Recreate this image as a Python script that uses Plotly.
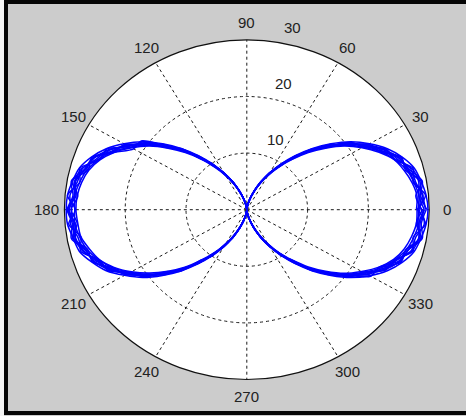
import numpy as np
import plotly.graph_objects as go

# Sweep angles (degrees) shared by every measured pattern
theta_deg = list(range(0, 365, 5))

# Radiation pattern magnitude, one list per measurement sweep
sweep_1 = [29.4, 29.0, 28.2, 27.9, 26.3, 25.1, 22.9, 20.0, 17.7, 14.6, 12.3, 9.4, 7.5, 5.1, 3.5, 1.8, 0.9, 0.3, 0.0,
           0.2, 1.0, 2.0, 3.3, 5.4, 7.2, 9.8, 11.9, 15.0, 17.3, 20.5, 22.4, 25.1, 26.3, 28.0, 28.3, 29.2, 28.8,
           29.1, 28.2, 27.9, 26.2, 25.0, 22.3, 20.4, 17.2, 15.0, 11.9, 9.8, 7.1, 5.3, 3.3, 2.0, 0.8, 0.2, 0.0,
           0.3, 0.9, 2.0, 3.5, 5.1, 7.4, 9.5, 12.3, 14.6, 17.8, 20.0, 22.8, 24.6, 26.8, 27.5, 28.8, 28.6, 29.2]
sweep_2 = [28.5, 28.6, 28.9, 27.3, 26.9, 24.5, 22.4, 20.5, 17.3, 15.0, 11.9, 9.7, 7.2, 5.3, 3.3, 2.0, 0.8, 0.2, 0.1,
           0.3, 0.8, 1.8, 3.5, 5.1, 7.4, 9.5, 12.3, 14.6, 17.7, 20.0, 22.9, 24.5, 26.8, 27.4, 28.8, 28.5, 29.3,
           28.6, 28.9, 27.4, 26.8, 24.6, 22.9, 19.9, 17.7, 14.5, 12.3, 9.4, 7.5, 5.1, 3.5, 1.8, 1.0, 0.3, 0.0,
           0.2, 1.0, 1.8, 3.3, 5.3, 7.2, 9.8, 11.8, 15.1, 17.2, 20.4, 22.3, 25.0, 26.2, 28.0, 28.2, 29.3, 28.7]
sweep_3 = [28.0, 29.5, 27.8, 28.3, 25.9, 25.3, 22.2, 20.8, 17.1, 15.2, 11.7, 9.9, 7.0, 5.5, 3.2, 2.1, 0.7, 0.3, 0.0,
           0.2, 0.9, 2.1, 3.2, 5.5, 7.0, 10.0, 11.7, 15.3, 17.0, 20.9, 22.0, 25.4, 25.8, 28.4, 27.9, 29.6, 28.2,
           29.4, 27.7, 28.3, 25.9, 25.3, 22.1, 20.7, 17.0, 15.3, 11.6, 10.0, 6.9, 5.5, 3.2, 2.1, 0.8, 0.2, 0.1,
           0.2, 0.8, 2.1, 3.2, 5.5, 7.0, 9.9, 11.7, 15.2, 17.1, 20.7, 22.1, 25.2, 25.9, 28.3, 27.8, 29.5, 28.1]
sweep_4 = [27.9, 28.1, 27.6, 26.8, 25.8, 24.0, 21.9, 19.6, 16.9, 14.3, 11.6, 9.2, 7.0, 5.0, 3.2, 1.8, 0.8, 0.2, 0.0,
           0.2, 0.8, 1.8, 3.2, 5.0, 7.0, 9.2, 11.7, 14.3, 16.9, 19.6, 21.9, 24.0, 25.7, 26.9, 27.6, 28.0, 28.1,
           27.9, 27.7, 26.8, 25.8, 24.1, 21.9, 19.5, 16.9, 14.4, 11.6, 9.2, 7.0, 5.0, 3.2, 1.8, 0.8, 0.2, 0.0,
           0.2, 0.8, 1.8, 3.3, 5.0, 7.0, 9.3, 11.6, 14.3, 16.9, 19.6, 21.8, 24.0, 25.7, 26.8, 27.5, 28.0, 28.0]
sweep_5 = [29.8, 29.6, 29.1, 28.5, 27.2, 25.5, 23.3, 20.9, 18.1, 15.3, 12.5, 9.9, 7.6, 5.4, 3.6, 2.0, 0.9, 0.3, 0.0,
           0.3, 0.9, 2.0, 3.6, 5.4, 7.6, 9.9, 12.5, 15.3, 18.1, 20.9, 23.3, 25.5, 27.2, 28.5, 29.1, 29.6, 29.7,
           29.6, 29.0, 28.5, 27.1, 25.5, 23.2, 20.9, 18.1, 15.3, 12.5, 9.9, 7.6, 5.4, 3.6, 2.0, 0.9, 0.3, 0.0,
           0.3, 0.9, 2.0, 3.6, 5.4, 7.6, 9.9, 12.5, 15.3, 18.1, 20.9, 23.3, 25.5, 27.2, 28.5, 29.1, 29.6, 29.8]
sweep_6 = [28.8, 27.9, 29.2, 27.0, 27.1, 24.2, 23.1, 19.8, 18.0, 14.5, 12.4, 9.3, 7.6, 5.1, 3.5, 1.9, 1.0, 0.2, 0.0,
           0.2, 1.0, 1.9, 3.5, 5.1, 7.6, 9.3, 12.4, 14.5, 18.0, 19.8, 23.1, 24.2, 27.1, 27.0, 29.2, 27.9, 28.9,
           28.0, 29.1, 27.1, 27.0, 24.3, 23.0, 19.8, 17.9, 14.6, 12.3, 9.4, 7.5, 5.2, 3.4, 1.9, 1.0, 0.2, 0.0,
           0.2, 1.0, 1.9, 3.4, 5.2, 7.5, 9.4, 12.3, 14.6, 17.9, 19.8, 23.0, 24.3, 27.0, 27.1, 29.1, 28.0, 28.9]
sweep_7 = [29.2, 28.4, 28.7, 28.1, 26.0, 24.9, 22.7, 20.3, 17.4, 14.9, 12.0, 9.6, 7.3, 5.2, 3.4, 1.9, 0.9, 0.2, 0.0,
           0.2, 0.9, 1.9, 3.4, 5.2, 7.3, 9.6, 12.0, 14.9, 17.4, 20.3, 22.7, 24.9, 26.0, 28.1, 28.7, 28.4, 29.2,
           28.4, 28.7, 28.0, 26.1, 24.9, 22.7, 20.3, 17.4, 14.9, 12.0, 9.6, 7.3, 5.2, 3.4, 1.9, 0.9, 0.2, 0.0,
           0.2, 0.9, 1.9, 3.4, 5.2, 7.3, 9.6, 12.0, 14.9, 17.4, 20.3, 22.7, 24.9, 26.0, 28.1, 28.7, 28.4, 29.1]
sweep_8 = [28.3, 29.1, 28.0, 27.5, 26.6, 24.6, 23.0, 20.1, 17.6, 14.7, 12.2, 9.5, 7.4, 5.3, 3.4, 1.9, 0.9, 0.2, 0.0,
           0.2, 0.9, 1.9, 3.4, 5.3, 7.4, 9.5, 12.2, 14.7, 17.6, 21.2, 21.5, 24.0, 26.9, 27.6, 28.6, 28.2, 29.5,
           28.3, 28.6, 27.8, 26.4, 24.7, 22.5, 20.1, 17.5, 14.8, 12.1, 9.6, 7.3, 5.2, 3.4, 1.9, 0.9, 0.2, 0.0,
           0.2, 0.9, 1.9, 3.4, 5.2, 7.3, 9.6, 12.1, 14.8, 17.5, 20.1, 23.5, 24.0, 26.6, 27.2, 28.9, 28.2, 28.4]
sweep_9 = [29.6, 28.7, 29.3, 27.6, 26.7, 25.0, 22.5, 20.6, 17.6, 15.1, 12.2, 9.8, 7.4, 5.3, 3.5, 2.0, 0.9, 0.3, 0.0,
           0.3, 0.9, 2.0, 3.5, 5.3, 7.4, 9.8, 12.2, 15.1, 17.6, 20.6, 22.5, 25.0, 26.7, 27.6, 29.3, 28.7, 29.5,
           28.8, 29.3, 27.5, 26.7, 25.0, 22.4, 20.6, 17.6, 15.1, 12.2, 9.8, 7.4, 5.3, 3.5, 2.0, 0.9, 0.3, 0.0,
           0.3, 0.9, 2.0, 3.5, 5.3, 7.4, 9.8, 12.2, 15.1, 17.6, 20.6, 22.4, 25.0, 26.7, 27.5, 29.3, 28.8, 29.5]
sweep_10 = [28.2, 28.4, 27.9, 27.2, 25.9, 24.3, 22.1, 19.9, 17.2, 14.6, 11.9, 9.4, 7.2, 5.1, 3.3, 1.9, 0.8, 0.2, 0.0,
            0.2, 0.8, 1.9, 3.3, 5.1, 7.2, 9.4, 11.9, 14.6, 17.2, 19.9, 22.1, 24.3, 25.9, 27.2, 27.9, 28.4, 28.3,
            28.4, 27.9, 27.2, 25.9, 24.3, 22.1, 19.9, 17.2, 14.6, 11.9, 9.4, 7.2, 5.1, 3.3, 1.9, 0.8, 0.2, 0.0,
            0.2, 0.8, 1.9, 3.3, 5.1, 7.2, 9.4, 11.9, 14.6, 17.2, 19.9, 22.1, 24.3, 25.9, 27.2, 27.9, 28.4, 28.2]
sweeps = [sweep_1, sweep_2, sweep_3, sweep_4, sweep_5, sweep_6, sweep_7, sweep_8, sweep_9, sweep_10]

# Polar grid description
r_max = 30
ring_radii = [10, 20]
ring_labels = ["10", "20", "30"]
spoke_angles = list(range(0, 360, 30))
angle_labels = [str(a) for a in spoke_angles]

# Pixel geometry of the drawing (the polar frame is stretched horizontally)
W, H = 466, 416
cx, cy = 246.8, 209.7
sx, sy = 6.08, 5.66
x_range = [-cx / sx, (W - cx) / sx]
y_range = [-(H - cy) / sy, cy / sy]

fig = go.Figure()

grid_color = "#1a1a1a"
shapes = []

# Black frame around the figure
def px_rect(x0, y0, x1, y1, color):
    return dict(type="rect", xref="paper", yref="paper", layer="below",
                x0=x0 / W, x1=x1 / W, y0=1 - y1 / H, y1=1 - y0 / H,
                fillcolor=color, line=dict(width=0))

shapes.append(px_rect(0, 0, 4, H, "#f4f4f4"))
shapes.append(px_rect(4, 0, W, 4, "#050505"))
shapes.append(px_rect(4, 0, 8, 415, "#050505"))
shapes.append(px_rect(4, 411, W, 415, "#050505"))

# White polar disc with solid outer boundary
shapes.append(dict(type="circle", xref="x", yref="y", layer="below",
                   x0=-r_max, x1=r_max, y0=-r_max, y1=r_max,
                   fillcolor="white", line=dict(color="#111111", width=1.2)))
for r in ring_radii:
    shapes.append(dict(type="circle", xref="x", yref="y", layer="below",
                       x0=-r, x1=r, y0=-r, y1=r,
                       line=dict(color=grid_color, width=1, dash="3px,3px")))
for a in spoke_angles:
    t = np.deg2rad(a)
    shapes.append(dict(type="line", xref="x", yref="y", layer="below",
                       x0=0, y0=0, x1=r_max * np.cos(t), y1=r_max * np.sin(t),
                       line=dict(color=grid_color, width=1, dash="3px,3px")))

# Pattern sweeps
th = np.deg2rad(np.array(theta_deg, dtype=float))
for s in sweeps:
    r = np.array(s)
    fig.add_trace(go.Scatter(
        x=r * np.cos(th), y=r * np.sin(th), mode="lines",
        line=dict(color="#0000ff", width=1.5, shape="spline", smoothing=0.8),
        hoverinfo="skip", showlegend=False))

label_font = dict(family="Liberation Sans, Arial, sans-serif", size=15, color="#222222")
annotations = []
# Angle labels just outside the outer circle
for a, txt in zip(spoke_angles, angle_labels):
    t = np.deg2rad(a)
    annotations.append(dict(x=1.1 * r_max * np.cos(t), y=1.1 * r_max * np.sin(t),
                            xref="x", yref="y", text=txt, showarrow=False,
                            xanchor="center", yanchor="middle", font=label_font))
# Radial labels along the 82 degree direction
t82 = np.deg2rad(82)
for r, txt in zip(ring_radii + [r_max], ring_labels):
    rr = r + 0.5
    annotations.append(dict(x=rr * np.cos(t82), y=rr * np.sin(t82),
                            xref="x", yref="y", text=txt, showarrow=False,
                            xanchor="left", yanchor="bottom", xshift=9, yshift=1,
                            font=label_font))

fig.update_layout(
    width=W, height=H,
    margin=dict(l=0, r=0, t=0, b=0),
    paper_bgcolor="#cccccc", plot_bgcolor="#cccccc",
    xaxis=dict(range=x_range, visible=False, showgrid=False, zeroline=False, fixedrange=True),
    yaxis=dict(range=y_range, visible=False, showgrid=False, zeroline=False, fixedrange=True),
    shapes=shapes, annotations=annotations, showlegend=False,
)

fig.write_html("out.html", config={"displayModeBar": False})
